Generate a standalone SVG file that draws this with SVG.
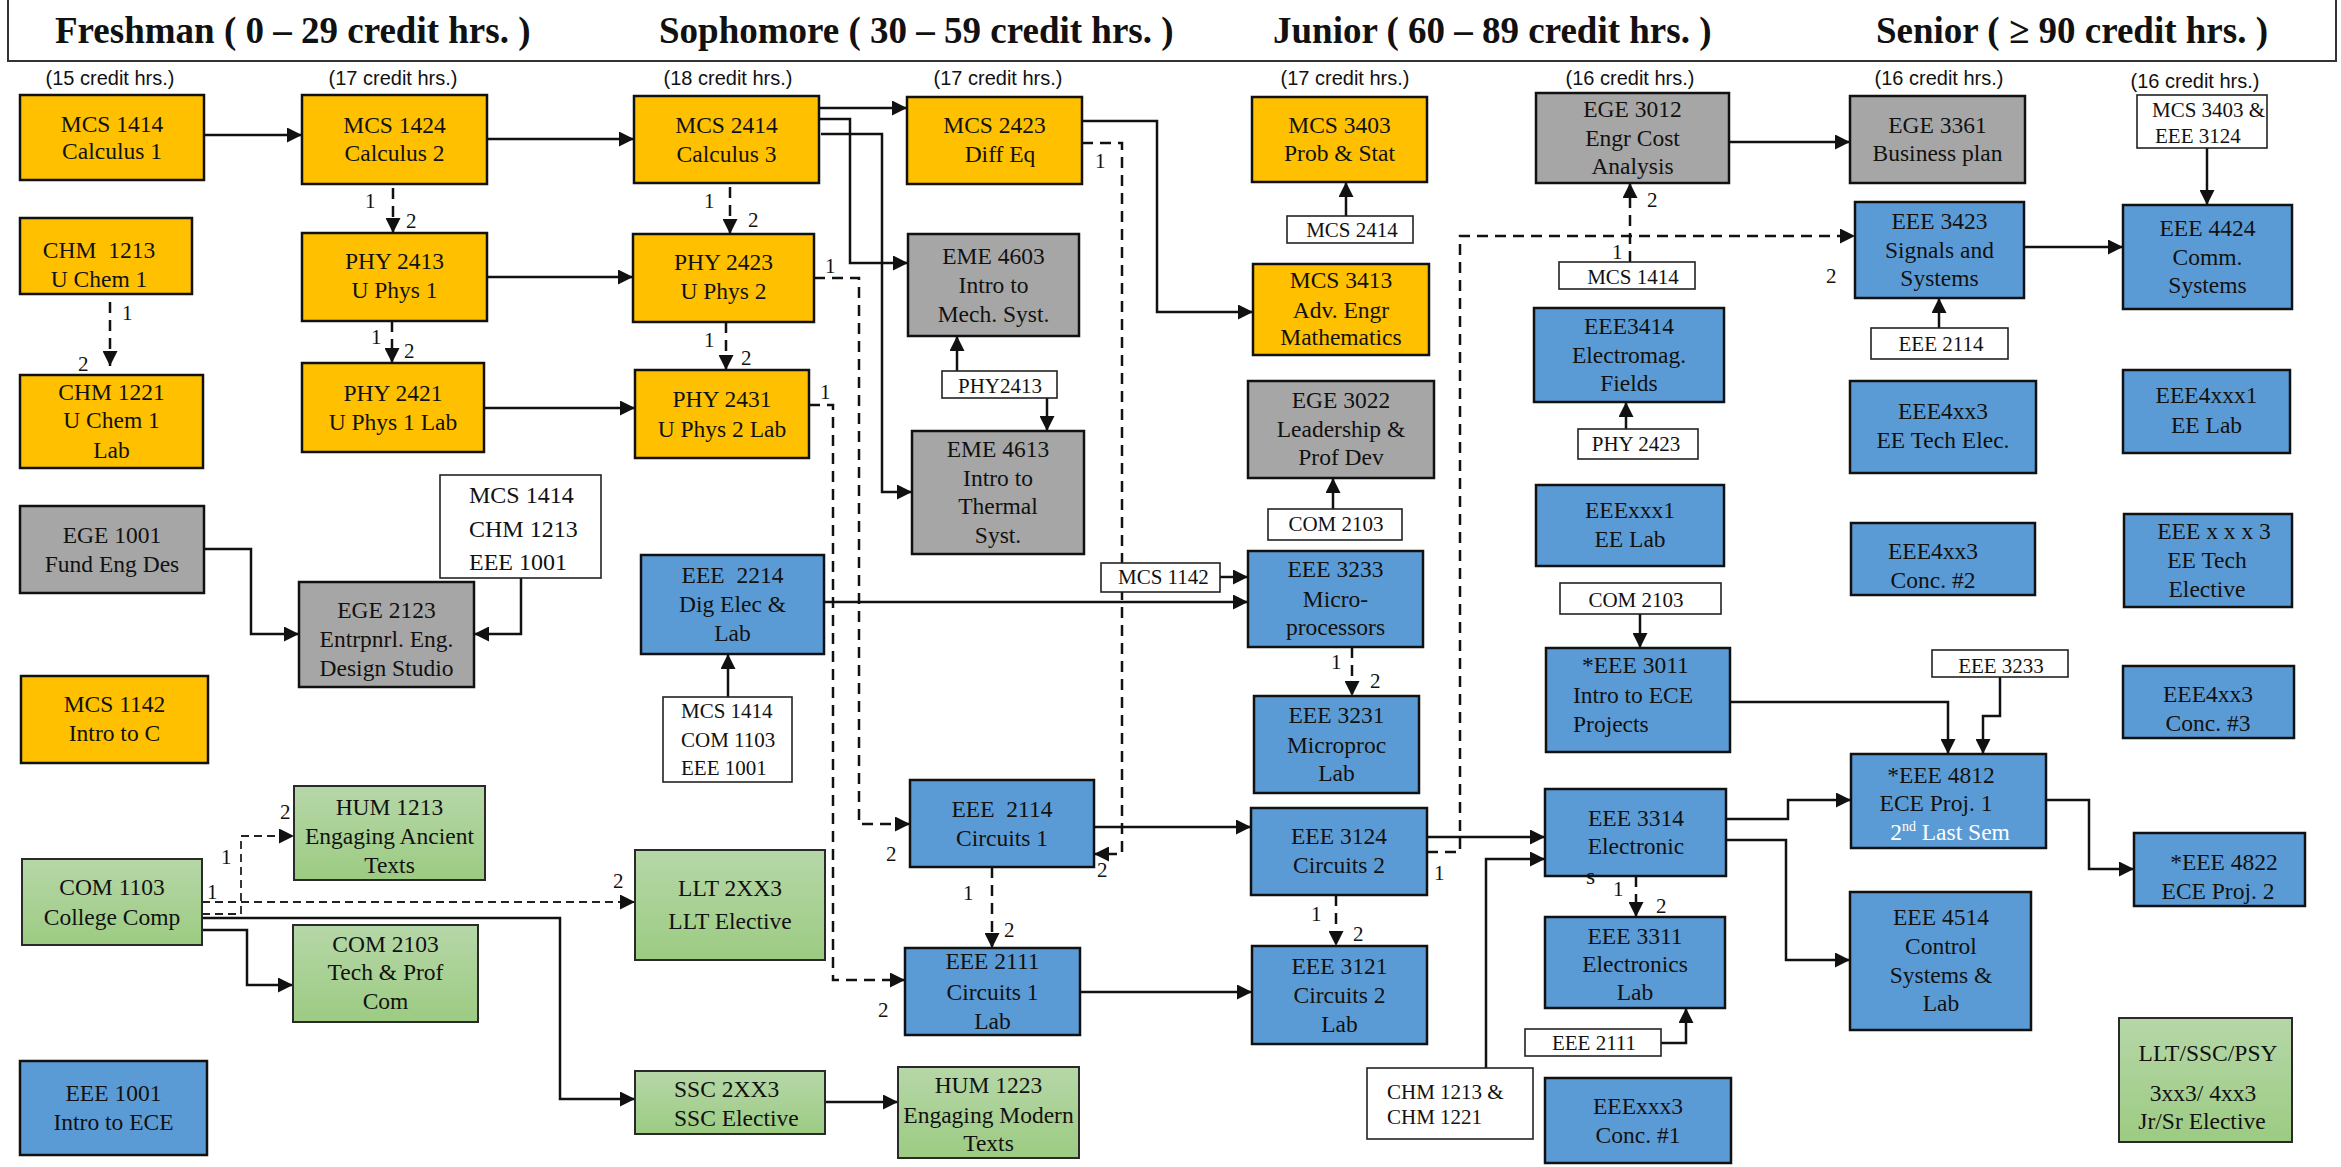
<svg xmlns="http://www.w3.org/2000/svg" width="2341" height="1167" viewBox="0 0 2341 1167">
<style>
.o{fill:#FFC000;stroke:#111;stroke-width:2.5}
.g{fill:#A6A6A6;stroke:#111;stroke-width:2.5}
.b{fill:#5B9BD5;stroke:#111;stroke-width:2.5}
.gr{fill:url(#grn);stroke:#2a2a2a;stroke-width:2}
.l{fill:#fff;stroke:#222;stroke-width:1.6}
.t{font-family:"Liberation Serif","Times New Roman",serif;font-size:23.5px;fill:#111;text-anchor:middle}
.ts{font-family:"Liberation Serif","Times New Roman",serif;font-size:23.5px;fill:#111}
.lt{font-family:"Liberation Serif","Times New Roman",serif;font-size:21px;fill:#111;text-anchor:middle}
.ls{font-family:"Liberation Serif","Times New Roman",serif;font-size:21px;fill:#111}
.n{font-family:"Liberation Serif","Times New Roman",serif;font-size:21px;fill:#111}
.h{font-family:"Liberation Serif","Times New Roman",serif;font-size:37px;font-weight:bold;fill:#111}
.cr{font-family:"Liberation Sans",Arial,sans-serif;font-size:20px;fill:#111;text-anchor:middle}
.c{fill:none;stroke:#111;stroke-width:2.5;marker-end:url(#ah)}
.cn{fill:none;stroke:#111;stroke-width:2.5}
.d{fill:none;stroke:#111;stroke-width:2.5;stroke-dasharray:11 7;marker-end:url(#ah)}
.dn{fill:none;stroke:#111;stroke-width:2.5;stroke-dasharray:11 7}
.dt{fill:none;stroke:#222;stroke-width:1.8;stroke-dasharray:8 5;marker-end:url(#ah)}
</style>
<defs>
<linearGradient id="grn" x1="0" y1="0" x2="0" y2="1">
<stop offset="0" stop-color="#B6D7A8"/>
<stop offset="1" stop-color="#9CCB82"/>
</linearGradient>
<marker id="ah" viewBox="0 0 10 10" refX="10" refY="5" markerWidth="15" markerHeight="15" markerUnits="userSpaceOnUse" orient="auto">
<path d="M0,0 L10,5 L0,10 z" fill="#111"/>
</marker>
</defs>
<rect width="2341" height="1167" fill="#fff"/>

<g id="header">
<path d="M8,-2 V61 H2336 V-2" fill="none" stroke="#333" stroke-width="2"/>
<text class="h" x="55" y="43">Freshman ( 0 – 29 credit hrs. )</text>
<text class="h" x="659" y="43">Sophomore ( 30 – 59 credit hrs. )</text>
<text class="h" x="1273" y="43">Junior ( 60 – 89 credit hrs. )</text>
<text class="h" x="1876" y="43">Senior ( ≥ 90 credit hrs. )</text>
</g>

<g id="credits">
<text class="cr" x="110" y="85">(15 credit hrs.)</text>
<text class="cr" x="393" y="85">(17 credit hrs.)</text>
<text class="cr" x="728" y="85">(18 credit hrs.)</text>
<text class="cr" x="998" y="85">(17 credit hrs.)</text>
<text class="cr" x="1345" y="85">(17 credit hrs.)</text>
<text class="cr" x="1630" y="85">(16 credit hrs.)</text>
<text class="cr" x="1939" y="85">(16 credit hrs.)</text>
<text class="cr" x="2195" y="88">(16 credit hrs.)</text>
</g>

<g id="connectors">
<path class="c" d="M204,135 H302"/>
<path class="c" d="M487,139 H634"/>
<path class="c" d="M487,277 H633"/>
<path class="c" d="M484,408 H635"/>
<path class="c" d="M204,549 H251 V634 H299"/>
<path class="c" d="M521,578 V634 H474"/>
<path class="c" d="M819,108 H907"/>
<path class="c" d="M819,119 H850 V263 H908"/>
<path class="c" d="M821,134 H882 V492 H912"/>
<path class="c" d="M1082,121 H1157 V312 H1253"/>
<path class="c" d="M957,371 V336"/>
<path class="c" d="M1047,398 V431"/>
<path class="c" d="M728,697 V654"/>
<path class="c" d="M824,602 H1248"/>
<path class="c" d="M1220,577 H1248"/>
<path class="c" d="M1346,216 V182"/>
<path class="c" d="M1333,509 V478"/>
<path class="c" d="M1094,827 H1251"/>
<path class="c" d="M1080,992 H1252"/>
<path class="c" d="M1427,837 H1545"/>
<path class="c" d="M1486,1068 V859 H1545"/>
<path class="c" d="M1661,1043 H1686 V1008"/>
<path class="c" d="M1626,429 V402"/>
<path class="c" d="M1640,614 V648"/>
<path class="c" d="M1729,142 H1850"/>
<path class="c" d="M1939,328 V298"/>
<path class="c" d="M2024,247 H2123"/>
<path class="c" d="M2207,148 V205"/>
<path class="c" d="M1730,702 H1948 V754"/>
<path class="c" d="M2000,677 V716 H1983 V754"/>
<path class="c" d="M1726,819 H1788 V800 H1851"/>
<path class="c" d="M1726,840 H1786 V960 H1850"/>
<path class="c" d="M2046,800 H2089 V869 H2134"/>
<path class="c" d="M202,930 H247 V985 H293"/>
<path class="c" d="M202,918 H560 V1099 H635"/>
<path class="c" d="M825,1102 H898"/>

<path class="d" d="M393,188 V233"/>
<path class="d" d="M110,302 V366"/>
<path class="d" d="M392,321 V363"/>
<path class="d" d="M730,187 V234"/>
<path class="d" d="M726,322 V370"/>
<path class="d" d="M814,278 H859 V824 H910"/>
<path class="d" d="M809,405 H833 V980 H905"/>
<path class="d" d="M1082,143 H1122 V854 H1094"/>
<path class="d" d="M992,867 V948"/>
<path class="d" d="M1352,647 V696"/>
<path class="d" d="M1336,895 V946"/>
<path class="d" d="M1427,852 H1460 V236 H1855"/>
<path class="d" d="M1630,262 V183"/>
<path class="d" d="M1636,876 V917"/>
<path class="dt" d="M202,914 H241 V836 H294"/>
<path class="dt" d="M202,902 H635"/>

<g id="conn-labels">
<text class="n" x="365" y="208">1</text><text class="n" x="406" y="228">2</text>
<text class="n" x="122" y="320">1</text><text class="n" x="78" y="371">2</text>
<text class="n" x="371" y="344">1</text><text class="n" x="404" y="358">2</text>
<text class="n" x="704" y="208">1</text><text class="n" x="748" y="227">2</text>
<text class="n" x="704" y="347">1</text><text class="n" x="741" y="365">2</text>
<text class="n" x="825" y="273">1</text><text class="n" x="886" y="861">2</text>
<text class="n" x="820" y="399">1</text><text class="n" x="878" y="1017">2</text>
<text class="n" x="1095" y="168">1</text><text class="n" x="1097" y="877">2</text>
<text class="n" x="963" y="900">1</text><text class="n" x="1004" y="937">2</text>
<text class="n" x="221" y="864">1</text><text class="n" x="280" y="819">2</text>
<text class="n" x="207" y="899">1</text><text class="n" x="613" y="888">2</text>
<text class="n" x="1331" y="669">1</text><text class="n" x="1370" y="688">2</text>
<text class="n" x="1311" y="921">1</text><text class="n" x="1353" y="941">2</text>
<text class="n" x="1434" y="880">1</text><text class="n" x="1826" y="283">2</text>
<text class="n" x="1612" y="259">1</text><text class="n" x="1647" y="207">2</text>
<text class="n" x="1613" y="896">1</text><text class="n" x="1656" y="913">2</text>
</g>
</g>

<g id="MCS1414"><rect class="o" x="20" y="95" width="184" height="85"/><text class="t"><tspan x="112" y="132">MCS 1414</tspan><tspan x="112" y="159">Calculus 1</tspan></text></g>
<g id="MCS1424"><rect class="o" x="302" y="95" width="185" height="89"/><text class="t"><tspan x="394.5" y="133">MCS 1424</tspan><tspan x="394.5" y="161">Calculus 2</tspan></text></g>
<g id="CHM1213"><rect class="o" x="20" y="218" width="172" height="76"/><text class="t"><tspan x="99" y="258" xml:space="preserve">CHM  1213</tspan><tspan x="99" y="287">U Chem 1</tspan></text></g>
<g id="CHM1221"><rect class="o" x="20" y="375" width="183" height="93"/><text class="t"><tspan x="111.5" y="400">CHM 1221</tspan><tspan x="111.5" y="428">U Chem 1</tspan><tspan x="111.5" y="458">Lab</tspan></text></g>
<g id="PHY2413"><rect class="o" x="302" y="233" width="185" height="88"/><text class="t"><tspan x="394.5" y="269">PHY 2413</tspan><tspan x="394.5" y="298">U Phys 1</tspan></text></g>
<g id="PHY2421"><rect class="o" x="302" y="363" width="182" height="89"/><text class="t"><tspan x="393" y="401">PHY 2421</tspan><tspan x="393" y="430">U Phys 1 Lab</tspan></text></g>
<g id="EGE1001"><rect class="g" x="20" y="506" width="184" height="87"/><text class="t"><tspan x="112" y="543">EGE 1001</tspan><tspan x="112" y="572">Fund Eng Des</tspan></text></g>
<g id="EGE2123"><rect class="g" x="299" y="582" width="175" height="105"/><text class="t"><tspan x="386.5" y="618">EGE 2123</tspan><tspan x="386.5" y="647">Entrpnrl. Eng.</tspan><tspan x="386.5" y="676">Design Studio</tspan></text></g>
<g id="MCS1142"><rect class="o" x="21" y="676" width="187" height="87"/><text class="t"><tspan x="114.5" y="712">MCS 1142</tspan><tspan x="114.5" y="741">Intro to C</tspan></text></g>
<g id="COM1103"><rect class="gr" x="22" y="859" width="180" height="86"/><text class="t"><tspan x="112" y="895">COM 1103</tspan><tspan x="112" y="925">College Comp</tspan></text></g>
<g id="HUM1213"><rect class="gr" x="294" y="786" width="191" height="94"/><text class="t"><tspan x="389.5" y="815">HUM 1213</tspan><tspan x="389.5" y="844">Engaging Ancient</tspan><tspan x="389.5" y="873">Texts</tspan></text></g>
<g id="COM2103"><rect class="gr" x="293" y="925" width="185" height="97"/><text class="t"><tspan x="385.5" y="952">COM 2103</tspan><tspan x="385.5" y="980">Tech &amp; Prof</tspan><tspan x="385.5" y="1009">Com</tspan></text></g>
<g id="EEE1001"><rect class="b" x="20" y="1061" width="187" height="94"/><text class="t"><tspan x="113.5" y="1101">EEE 1001</tspan><tspan x="113.5" y="1130">Intro to ECE</tspan></text></g>

<g id="MCS2414"><rect class="o" x="634" y="96" width="185" height="87"/><text class="t"><tspan x="726.5" y="133">MCS 2414</tspan><tspan x="726.5" y="162">Calculus 3</tspan></text></g>
<g id="MCS2423"><rect class="o" x="907" y="97" width="175" height="87"/><text class="t"><tspan x="994.5" y="133">MCS 2423</tspan><tspan x="1000" y="162">Diff Eq</tspan></text></g>
<g id="PHY2423"><rect class="o" x="633" y="234" width="181" height="88"/><text class="t"><tspan x="723.5" y="270">PHY 2423</tspan><tspan x="723.5" y="299">U Phys 2</tspan></text></g>
<g id="EME4603"><rect class="g" x="908" y="234" width="171" height="102"/><text class="t"><tspan x="993.5" y="264">EME 4603</tspan><tspan x="993.5" y="293">Intro to</tspan><tspan x="993.5" y="322">Mech. Syst.</tspan></text></g>
<g id="PHY2431"><rect class="o" x="635" y="370" width="174" height="88"/><text class="t"><tspan x="722" y="407">PHY 2431</tspan><tspan x="722" y="437">U Phys 2 Lab</tspan></text></g>
<g id="EME4613"><rect class="g" x="912" y="431" width="172" height="123"/><text class="t"><tspan x="998" y="457">EME 4613</tspan><tspan x="998" y="486">Intro to</tspan><tspan x="998" y="514">Thermal</tspan><tspan x="998" y="543">Syst.</tspan></text></g>
<g id="EEE2214"><rect class="b" x="641" y="555" width="183" height="99"/><text class="t"><tspan x="732.5" y="583" xml:space="preserve">EEE  2214</tspan><tspan x="732.5" y="612">Dig Elec &amp;</tspan><tspan x="732.5" y="641">Lab</tspan></text></g>
<g id="LLT2XX3"><rect class="gr" x="635" y="850" width="190" height="110"/><text class="t"><tspan x="730" y="896">LLT 2XX3</tspan><tspan x="730" y="929">LLT Elective</tspan></text></g>
<g id="SSC2XX3"><rect class="gr" x="635" y="1071" width="190" height="63"/><text class="ts"><tspan x="674" y="1097">SSC 2XX3</tspan><tspan x="674" y="1126">SSC Elective</tspan></text></g>
<g id="HUM1223"><rect class="gr" x="898" y="1067" width="181" height="91"/><text class="t"><tspan x="988.5" y="1093">HUM 1223</tspan><tspan x="988.5" y="1123">Engaging Modern</tspan><tspan x="988.5" y="1151">Texts</tspan></text></g>
<g id="EEE2114"><rect class="b" x="910" y="780" width="184" height="87"/><text class="t"><tspan x="1002" y="817" xml:space="preserve">EEE  2114</tspan><tspan x="1002" y="846">Circuits 1</tspan></text></g>
<g id="EEE2111"><rect class="b" x="905" y="948" width="175" height="87"/><text class="t"><tspan x="992.5" y="969">EEE 2111</tspan><tspan x="992.5" y="1000">Circuits 1</tspan><tspan x="992.5" y="1029">Lab</tspan></text></g>

<g id="MCS3403"><rect class="o" x="1252" y="97" width="175" height="85"/><text class="t"><tspan x="1339.5" y="133">MCS 3403</tspan><tspan x="1339.5" y="161">Prob &amp; Stat</tspan></text></g>
<g id="MCS3413"><rect class="o" x="1253" y="264" width="176" height="91"/><text class="t"><tspan x="1341" y="288">MCS 3413</tspan><tspan x="1341" y="318">Adv. Engr</tspan><tspan x="1341" y="345">Mathematics</tspan></text></g>
<g id="EGE3022"><rect class="g" x="1248" y="381" width="186" height="97"/><text class="t"><tspan x="1341" y="408">EGE 3022</tspan><tspan x="1341" y="437">Leadership &amp;</tspan><tspan x="1341" y="465">Prof Dev</tspan></text></g>
<g id="EEE3233"><rect class="b" x="1248" y="551" width="175" height="96"/><text class="t"><tspan x="1335.5" y="577">EEE 3233</tspan><tspan x="1335.5" y="607">Micro-</tspan><tspan x="1335.5" y="635">processors</tspan></text></g>
<g id="EEE3231"><rect class="b" x="1254" y="696" width="165" height="97"/><text class="t"><tspan x="1336.5" y="723">EEE 3231</tspan><tspan x="1336.5" y="753">Microproc</tspan><tspan x="1336.5" y="781">Lab</tspan></text></g>
<g id="EEE3124"><rect class="b" x="1251" y="808" width="176" height="87"/><text class="t"><tspan x="1339" y="844">EEE 3124</tspan><tspan x="1339" y="873">Circuits 2</tspan></text></g>
<g id="EEE3121"><rect class="b" x="1252" y="946" width="175" height="98"/><text class="t"><tspan x="1339.5" y="974">EEE 3121</tspan><tspan x="1339.5" y="1003">Circuits 2</tspan><tspan x="1339.5" y="1032">Lab</tspan></text></g>
<g id="EGE3012"><rect class="g" x="1536" y="93" width="193" height="90"/><text class="t"><tspan x="1632.5" y="117">EGE 3012</tspan><tspan x="1632.5" y="146">Engr Cost</tspan><tspan x="1632.5" y="174">Analysis</tspan></text></g>
<g id="EEE3414"><rect class="b" x="1534" y="308" width="190" height="94"/><text class="t"><tspan x="1629" y="334">EEE3414</tspan><tspan x="1629" y="363">Electromag.</tspan><tspan x="1629" y="391">Fields</tspan></text></g>
<g id="EEExxx1"><rect class="b" x="1536" y="485" width="188" height="81"/><text class="t"><tspan x="1630" y="518">EEExxx1</tspan><tspan x="1630" y="547">EE Lab</tspan></text></g>
<g id="EEE3011"><rect class="b" x="1546" y="648" width="184" height="104"/><text class="ts"><tspan x="1582" y="673">*EEE 3011</tspan><tspan x="1573" y="703">Intro to ECE</tspan><tspan x="1573" y="732">Projects</tspan></text></g>
<g id="EEE3314"><rect class="b" x="1545" y="789" width="181" height="87"/><text class="t"><tspan x="1636" y="826">EEE 3314</tspan><tspan x="1636" y="854">Electronic</tspan></text><text class="ts" x="1586" y="884">s</text></g>
<g id="EEE3311"><rect class="b" x="1545" y="917" width="180" height="91"/><text class="t"><tspan x="1635" y="944">EEE 3311</tspan><tspan x="1635" y="972">Electronics</tspan><tspan x="1635" y="1000">Lab</tspan></text></g>
<g id="EEExxx3"><rect class="b" x="1545" y="1078" width="186" height="85"/><text class="t"><tspan x="1638" y="1114">EEExxx3</tspan><tspan x="1638" y="1143">Conc. #1</tspan></text></g>

<g id="EGE3361"><rect class="g" x="1850" y="96" width="175" height="87"/><text class="t"><tspan x="1937.5" y="133">EGE 3361</tspan><tspan x="1937.5" y="161">Business plan</tspan></text></g>
<g id="EEE3423"><rect class="b" x="1855" y="202" width="169" height="96"/><text class="t"><tspan x="1939.5" y="229">EEE 3423</tspan><tspan x="1939.5" y="258">Signals and</tspan><tspan x="1939.5" y="286">Systems</tspan></text></g>
<g id="EEE4424"><rect class="b" x="2123" y="205" width="169" height="104"/><text class="t"><tspan x="2207.5" y="236">EEE 4424</tspan><tspan x="2207.5" y="265">Comm.</tspan><tspan x="2207.5" y="293">Systems</tspan></text></g>
<g id="EEE4xx3a"><rect class="b" x="1850" y="381" width="186" height="92"/><text class="t"><tspan x="1943" y="419">EEE4xx3</tspan><tspan x="1943" y="448">EE Tech Elec.</tspan></text></g>
<g id="EEE4xxx1"><rect class="b" x="2123" y="370" width="167" height="83"/><text class="t"><tspan x="2206.5" y="403">EEE4xxx1</tspan><tspan x="2206.5" y="433">EE Lab</tspan></text></g>
<g id="EEE4xx3b"><rect class="b" x="1851" y="523" width="184" height="72"/><text class="t"><tspan x="1933" y="559">EEE4xx3</tspan><tspan x="1933" y="588">Conc. #2</tspan></text></g>
<g id="EEExxx3b"><rect class="b" x="2124" y="514" width="168" height="93"/><text class="t"><tspan x="2214" y="539">EEE x x x 3</tspan><tspan x="2207" y="568">EE Tech</tspan><tspan x="2207" y="597">Elective</tspan></text></g>
<g id="EEE4xx3c"><rect class="b" x="2123" y="666" width="171" height="72"/><text class="t"><tspan x="2208" y="702">EEE4xx3</tspan><tspan x="2208" y="731">Conc. #3</tspan></text></g>
<g id="EEE4812"><rect class="b" x="1851" y="754" width="195" height="94"/><text class="t"><tspan x="1941" y="783">*EEE 4812</tspan><tspan x="1936" y="811">ECE Proj. 1</tspan></text><text class="t" x="1950" y="840" fill="#fff" style="fill:#fff">2<tspan font-size="14" dy="-9">nd</tspan><tspan dy="9"> Last Sem</tspan></text></g>
<g id="EEE4822"><rect class="b" x="2134" y="833" width="171" height="73"/><text class="t"><tspan x="2224" y="870">*EEE 4822</tspan><tspan x="2218" y="899">ECE Proj. 2</tspan></text></g>
<g id="EEE4514"><rect class="b" x="1850" y="892" width="181" height="138"/><text class="t"><tspan x="1941" y="925">EEE 4514</tspan><tspan x="1941" y="954">Control</tspan><tspan x="1941" y="983">Systems &amp;</tspan><tspan x="1941" y="1011">Lab</tspan></text></g>
<g id="LLTSSCPSY"><rect class="gr" x="2119" y="1018" width="173" height="124"/><text class="t"><tspan x="2208" y="1061">LLT/SSC/PSY</tspan><tspan x="2203" y="1101">3xx3/ 4xx3</tspan><tspan x="2202" y="1129">Jr/Sr Elective</tspan></text></g>

<g id="prereq-labels">
<g id="L1"><rect class="l" x="440" y="475" width="161" height="103"/><text class="ls" style="font-size:24px"><tspan x="469" y="503">MCS 1414</tspan><tspan x="469" y="537">CHM 1213</tspan><tspan x="469" y="570">EEE 1001</tspan></text></g>
<g id="L2"><rect class="l" x="942" y="371" width="115" height="27"/><text class="lt" x="1000" y="393">PHY2413</text></g>
<g id="L3"><rect class="l" x="663" y="697" width="129" height="85"/><text class="ls"><tspan x="681" y="718">MCS 1414</tspan><tspan x="681" y="747">COM 1103</tspan><tspan x="681" y="775">EEE 1001</tspan></text></g>
<g id="L4"><rect class="l" x="1101" y="563" width="119" height="29"/><text class="ls" x="1118" y="584">MCS 1142</text></g>
<g id="L5"><rect class="l" x="1287" y="216" width="126" height="27"/><text class="lt" x="1352" y="237">MCS 2414</text></g>
<g id="L6"><rect class="l" x="1268" y="509" width="134" height="31"/><text class="lt" x="1336" y="531">COM 2103</text></g>
<g id="L7"><rect class="l" x="1559" y="262" width="136" height="27"/><text class="lt" x="1633" y="284">MCS 1414</text></g>
<g id="L8"><rect class="l" x="1578" y="429" width="120" height="30"/><text class="lt" x="1636" y="451">PHY 2423</text></g>
<g id="L9"><rect class="l" x="1560" y="583" width="161" height="31"/><text class="lt" x="1636" y="607">COM 2103</text></g>
<g id="L10"><rect class="l" x="1525" y="1029" width="136" height="27"/><text class="lt" x="1594" y="1050">EEE 2111</text></g>
<g id="L11"><rect class="l" x="1367" y="1068" width="166" height="71"/><text class="ls"><tspan x="1387" y="1099">CHM 1213 &amp;</tspan><tspan x="1387" y="1124">CHM 1221</tspan></text></g>
<g id="L12"><rect class="l" x="1932" y="650" width="136" height="27"/><text class="lt" x="2001" y="673">EEE 3233</text></g>
<g id="L13"><rect class="l" x="1871" y="328" width="137" height="31"/><text class="lt" x="1941" y="351">EEE 2114</text></g>
<g id="L14"><rect class="l" x="2137" y="95" width="130" height="53"/><text class="ls"><tspan x="2152" y="117">MCS 3403 &amp;</tspan><tspan x="2155" y="143">EEE 3124</tspan></text></g>
</g>
</svg>
